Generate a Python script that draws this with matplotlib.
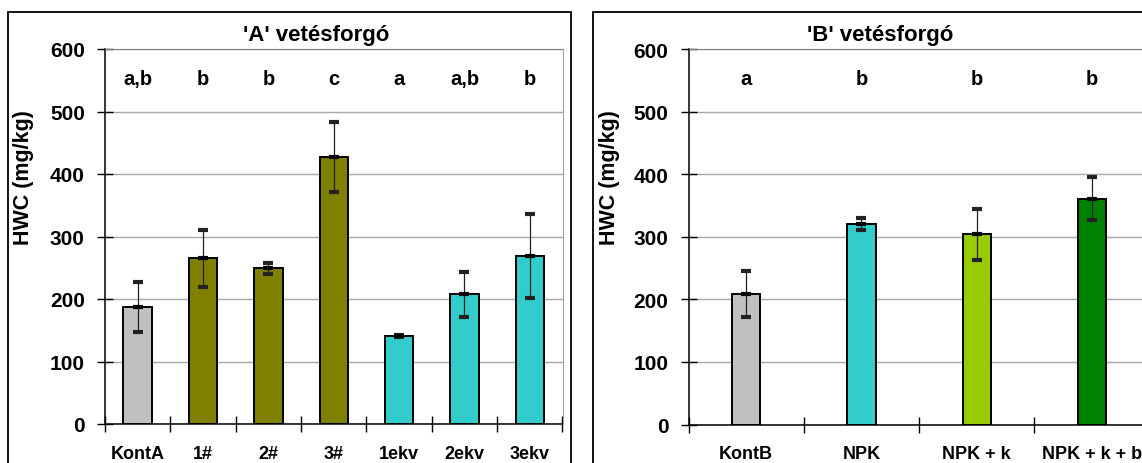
import matplotlib
matplotlib.use("Agg")
import matplotlib.pyplot as plt
from matplotlib.patches import Rectangle
import numpy as np

plt.rcParams["font.family"] = ["Liberation Sans", "DejaVu Sans"]
plt.rcParams["font.weight"] = "bold"

# 'A' rotation
cats_a = ["KontA", "1#", "2#", "3#", "1ekv", "2ekv", "3ekv"]
vals_a = [188, 265, 249, 428, 141, 208, 269]
errs_a = [40, 45, 9, 56, 2, 36, 67]
letters_a = ["a,b", "b", "b", "c", "a", "a,b", "b"]
colors_a = ["#C0C0C0", "#808000", "#808000", "#808000", "#33CCCC", "#33CCCC", "#33CCCC"]

# 'B' rotation
cats_b = ["KontB", "NPK", "NPK + k", "NPK + k + b"]
vals_b = [208, 320, 304, 361]
errs_b = [37, 10, 41, 35]
letters_b = ["a", "b", "b", "b"]
colors_b = ["#C0C0C0", "#33CCCC", "#99CC00", "#008000"]

W, H = 1142, 464


def px_axes(fig, x0, y0, x1, y1):
    return fig.add_axes([x0 / W, 1 - y1 / H, (x1 - x0) / W, (y1 - y0) / H])


def draw_panel(ax, cats, vals, errs, letters, colors, width, title, title_x):
    n = len(cats)
    x = np.arange(n)
    ax.bar(x, vals, width=width, color=colors, edgecolor="black",
           linewidth=1.4, zorder=3)
    ax.errorbar(x, vals, yerr=errs, fmt="_", ms=7.5, mew=3, color="black",
                ecolor="#222222", elinewidth=0.9, capsize=3.8, capthick=3,
                zorder=4)
    for i, lt in enumerate(letters):
        ax.text(i, 553, lt, ha="center", va="center", fontsize=14.5,
                fontweight="bold")

    ax.set_xlim(-0.5, n - 0.5)
    ax.set_ylim(0, 600)
    ax.set_yticks(range(0, 601, 100))
    ax.yaxis.grid(True, color="#a8a8a8", linewidth=1.0, zorder=0)
    ax.set_axisbelow(True)

    ax.set_xticks(np.arange(-0.5, n, 1.0))
    ax.set_xticklabels([])
    ax.set_xticks(x, minor=True)
    ax.set_xticklabels(cats, minor=True, fontsize=13, fontweight="bold")
    ax.tick_params(axis="x", which="major", direction="inout", length=11,
                   width=1)
    ax.tick_params(axis="x", which="minor", length=0, pad=15)
    ax.tick_params(axis="y", direction="inout", length=11, width=1,
                   labelsize=15, pad=9)
    for lab in ax.get_yticklabels():
        lab.set_fontweight("bold")

    ax.spines["left"].set_linewidth(1.1)
    ax.spines["bottom"].set_linewidth(1.1)
    ax.spines["top"].set_color("#808080")
    ax.spines["right"].set_color("#a0a0a0")

    ax.set_ylabel("HWC (mg/kg)", fontsize=15.5, fontweight="bold")
    fig.text(title_x / W, 1 - 35 / H, title, ha="center", va="center",
             fontsize=16, fontweight="bold")


fig = plt.figure(figsize=(W / 100, H / 100), dpi=100)

# panel frames
fig.patches.append(Rectangle((8 / W, -0.05), (571 - 8) / W, 1.05 - 13 / H,
                             transform=fig.transFigure, fill=False,
                             edgecolor="black", linewidth=1.3))
fig.patches.append(Rectangle((593 / W, -0.05), 0.6, 1.05 - 13 / H,
                             transform=fig.transFigure, fill=False,
                             edgecolor="black", linewidth=1.3))

ax_a = px_axes(fig, 105, 50, 562.5, 425)
draw_panel(ax_a, cats_a, vals_a, errs_a, letters_a, colors_a, 0.434,
           "'A' vetésforgó", 316)
ax_a.yaxis.set_label_coords((34 - 105) / 457.5, 0.66)

ax_b = px_axes(fig, 688.5, 50, 688.5 + 4 * 115.3, 425.5)
draw_panel(ax_b, cats_b, vals_b, errs_b, letters_b, colors_b, 0.245,
           "'B' vetésforgó", 880)
ax_b.yaxis.set_label_coords((620 - 688.5) / 461.2, 0.66)

fig.savefig("out.png", dpi=100, facecolor="white")
